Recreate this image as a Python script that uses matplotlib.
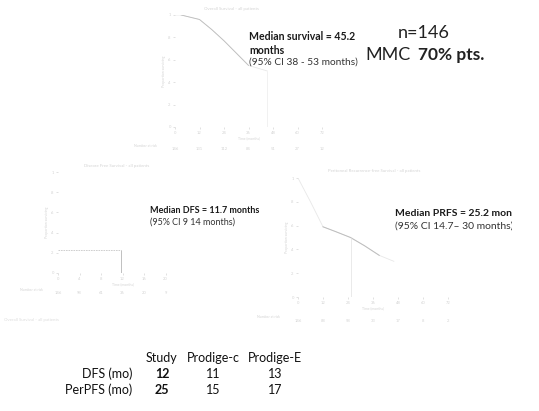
import matplotlib
matplotlib.use("Agg")
import matplotlib.pyplot as plt
import matplotlib.transforms as mtransforms

W, H = 539, 411
plt.rcParams['font.family'] = ['Lato', 'DejaVu Sans']

# ---- data ----
os_t = [0, 3, 12, 18, 24, 30, 36, 45.2]
os_s = [1.0, 1.0, 0.96, 0.87, 0.77, 0.66, 0.55, 0.50]
os_median = 45.2
os_ticks = [0, 12, 24, 36, 48, 60, 72]
os_risk = [146, 131, 112, 84, 51, 27, 12]

dfs_median = 11.7
dfs_median_level = 0.23
dfs_ticks = [0, 4, 8, 12, 16, 20]
dfs_risk = [146, 98, 61, 36, 20, 9]

prfs_t = [0, 6, 12, 18, 25.2, 32, 39, 46]
prfs_s = [1.0, 0.80, 0.59, 0.55, 0.50, 0.43, 0.35, 0.30]
prfs_median = 25.2
prfs_ticks = [0, 12, 24, 36, 48, 60, 72]
prfs_risk = [146, 88, 58, 33, 17, 8, 2]

table_cols = ["Study", "Prodige-c", "Prodige-E"]
table_rows = ["DFS (mo)", "PerPFS (mo)"]
table_vals = [[12, 11, 13], [25, 15, 17]]

faint = "#d4d4d4"
curve_c = "#bdbdbd"
curve_light = "#e8e8e8"

fig = plt.figure(figsize=(W / 100, H / 100), dpi=100)
fig.patch.set_facecolor("white")


def px(x, y):
    return x / W, 1 - y / H


def make_ax(x0, x1, ytop, ybot, xlim, xticks, title, risk):
    ax = fig.add_axes([x0 / W, 1 - ybot / H, (x1 - x0) / W, (ybot - ytop) / H])
    ax.set_xlim(*xlim)
    ax.set_ylim(0, 1)
    for s in ax.spines.values():
        s.set_visible(False)
    ax.set_xticks(xticks)
    ax.set_yticks([0, 0.2, 0.4, 0.6, 0.8, 1.0])
    ax.set_yticklabels(["0", ".2", ".4", ".6", ".8", "1"])
    ax.tick_params(length=1.5, width=0.5, color=faint, labelcolor=faint,
                   labelsize=3, pad=1.5)
    ax.patch.set_alpha(0)
    ax.set_ylabel("Proportion surviving", fontsize=2.5, color=faint, labelpad=1)
    ax.set_xlabel("Time (months)", fontsize=2.5, color=faint, labelpad=1)
    ax.text(0.2, 1.04, title, transform=ax.transAxes, fontsize=3.2,
            color=faint, va="bottom")
    tr = mtransforms.blended_transform_factory(ax.transData, ax.transAxes)
    for t, n in zip(xticks, risk):
        ax.text(t, -0.2, str(n), transform=tr, fontsize=3, color=faint,
                ha="center", va="center")
    ax.text(-0.12, -0.17, "Number at risk", transform=ax.transAxes,
            fontsize=2.5, color=faint, ha="right", va="center")
    return ax


# Panel 1: overall survival
ax1 = make_ax(175, 322, 15, 127, (0, 72), os_ticks,
              "Overall Survival - all patients", os_risk)
ax1.plot(os_t, os_s, color=curve_light, lw=0.6)
ax1.plot(os_t[1:7], os_s[1:7], color=curve_c, lw=0.6)
ax1.vlines(os_median, 0, 0.5, color="#ececec", lw=0.5)

# Panel 2: disease free survival
ax2 = make_ax(58, 187, 172, 273, (0, 24), dfs_ticks,
              "Disease Free Survival - all patients", dfs_risk)
ax2.hlines(dfs_median_level, 0, dfs_median, color="#c8c8c8", lw=0.6,
           linestyles=(0, (2, 1)))
ax2.vlines(dfs_median, -0.05, dfs_median_level, color="#c0c0c0", lw=0.7)

# Panel 3: peritoneal recurrence-free survival
ax3 = make_ax(298, 448, 178, 297, (0, 72), prfs_ticks,
              "Peritoneal Recurrence-free Survival - all patients", prfs_risk)
ax3.plot(prfs_t, prfs_s, color=curve_light, lw=0.6)
ax3.plot(prfs_t[2:7], prfs_s[2:7], color=curve_c, lw=0.7)
ax3.vlines(prfs_median, 0, 0.5, color="#e6e6e6", lw=0.6)

# Annotations
dark = "#1a1a1a"
fig.text(*px(249, 37), "Median survival = 45.2", fontsize=7.6, weight="bold",
         color=dark, va="center")
fig.text(*px(249, 50), "months", fontsize=7.6, weight="bold", color=dark,
         va="center")
fig.text(*px(249, 62), "(95% CI 38 - 53 months)", fontsize=7.3, color="#333333",
         va="center")

fig.text(*px(424, 33), "n=146", fontsize=13, color="#222222",
         ha="center", va="center")
fig.text(*px(365, 55), "MMC", fontsize=13, color="#222222", va="center")
fig.text(*px(418, 55), "70% pts.", fontsize=12.5, color="#222222",
         weight="bold", va="center")

fig.text(*px(150, 210), "Median DFS = 11.7 months", fontsize=6.5, weight="bold",
         color=dark, va="center")
fig.text(*px(150, 222), "(95% CI 9 14 months)", fontsize=6.5, color="#333333",
         va="center")

clip = mtransforms.Bbox.from_extents(0, 0, 512, H)
t1 = fig.text(*px(395, 213), "Median PRFS = 25.2 months", fontsize=7.5,
              weight="bold", color=dark, va="center")
t2 = fig.text(*px(395, 226), "(95% CI 14.7\u2013 30 months)", fontsize=7.5,
              color="#333333", va="center")
for t in (t1, t2):
    t.set_clip_on(True)
    t.set_clip_box(clip)

fig.text(*px(4, 320), "Overall Survival - all patients", fontsize=3.2,
         color="#dddddd", va="center")

# Comparison table
col_x = [162, 213, 275]
row_y = [374, 390]
fig.text(*px(col_x[0], 358), table_cols[0], fontsize=9, color="#111111",
         ha="center", va="center")
for cx, name in zip(col_x[1:], table_cols[1:]):
    fig.text(*px(cx, 358), name, fontsize=9, color="#111111", ha="center",
             va="center")
for ry, rname, vals in zip(row_y, table_rows, table_vals):
    fig.text(*px(132, ry), rname, fontsize=9, color="#111111", ha="right",
             va="center")
    for j, (cx, v) in enumerate(zip(col_x, vals)):
        fig.text(*px(cx, ry), str(v), fontsize=9, color="#111111",
                 ha="center", va="center",
                 weight="bold" if j == 0 else "normal")

fig.savefig("out.png", dpi=100)
